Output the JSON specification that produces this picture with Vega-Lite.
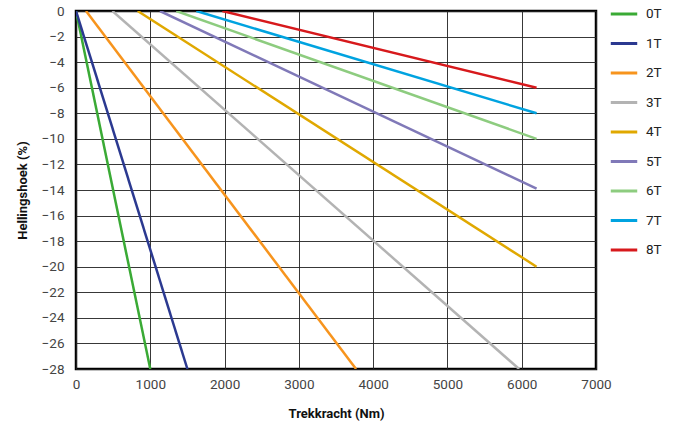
{
  "$schema": "https://vega.github.io/schema/vega-lite/v6.json",
  "autosize": "none",
  "width": 520,
  "height": 358,
  "padding": {"left": 76, "top": 11, "right": 82, "bottom": 59},
  "background": "white",
  "config": {
    "font": "Roboto",
    "view": {"stroke": "#000", "strokeWidth": 2.5}
  },
  "data": {
    "values": [
      {"serie": "0T", "kracht": 0, "helling": 0},
      {"serie": "0T", "kracht": 1000, "helling": -28},
      {"serie": "1T", "kracht": 0, "helling": 0},
      {"serie": "1T", "kracht": 1500, "helling": -28},
      {"serie": "2T", "kracht": 135, "helling": 0},
      {"serie": "2T", "kracht": 3770, "helling": -28},
      {"serie": "3T", "kracht": 490, "helling": 0},
      {"serie": "3T", "kracht": 5965, "helling": -28},
      {"serie": "4T", "kracht": 830, "helling": 0},
      {"serie": "4T", "kracht": 6200, "helling": -20},
      {"serie": "5T", "kracht": 1130, "helling": 0},
      {"serie": "5T", "kracht": 6200, "helling": -13.9},
      {"serie": "6T", "kracht": 1350, "helling": 0},
      {"serie": "6T", "kracht": 6200, "helling": -10},
      {"serie": "7T", "kracht": 1620, "helling": 0},
      {"serie": "7T", "kracht": 6200, "helling": -8},
      {"serie": "8T", "kracht": 1970, "helling": 0},
      {"serie": "8T", "kracht": 6200, "helling": -6}
    ]
  },
  "mark": {"type": "line", "strokeWidth": 2.5, "clip": true},
  "encoding": {
    "x": {
      "field": "kracht", "type": "quantitative",
      "scale": {"domain": [0, 7000], "nice": false},
      "axis": {
        "title": "Trekkracht (Nm)", "values": [0,1000,2000,3000,4000,5000,6000,7000],
        "format": "d", "labelFlush": false,
        "grid": true, "gridColor": "#222", "gridOpacity": 0.9, "gridWidth": 1,
        "domain": false, "ticks": false, "labelPadding": 8,
        "labelFontSize": 13.5, "labelColor": "#444",
        "titleFontSize": 13, "titleFontWeight": "bold", "titleColor": "#111", "titlePadding": 17
      }
    },
    "y": {
      "field": "helling", "type": "quantitative",
      "scale": {"domain": [-28, 0], "nice": false},
      "axis": {
        "title": "Hellingshoek (%)",
        "values": [0,-2,-4,-6,-8,-10,-12,-14,-16,-18,-20,-22,-24,-26,-28],
        "labelFlush": false,
        "grid": true, "gridColor": "#222", "gridOpacity": 0.9, "gridWidth": 1,
        "domain": false, "ticks": false, "labelPadding": 12,
        "labelFontSize": 13.5, "labelColor": "#444",
        "titleFontSize": 13, "titleFontWeight": "bold", "titleColor": "#111", "titlePadding": 12
      }
    },
    "color": {
      "field": "serie", "type": "nominal",
      "scale": {
        "domain": ["0T","1T","2T","3T","4T","5T","6T","7T","8T"],
        "range": ["#3aaa35","#2b3990","#f7941d","#b3b3b3","#e0a800","#8079b8","#8dcc7f","#00a3e0","#d7191c"]
      },
      "legend": {
        "title": null, "orient": "none", "legendX": 533, "legendY": -12,
        "symbolType": "stroke", "symbolSize": 700, "symbolStrokeWidth": 3,
        "labelFontSize": 13.5, "labelColor": "#222", "labelOffset": 7,
        "rowPadding": 7.5
      }
    }
  }
}
